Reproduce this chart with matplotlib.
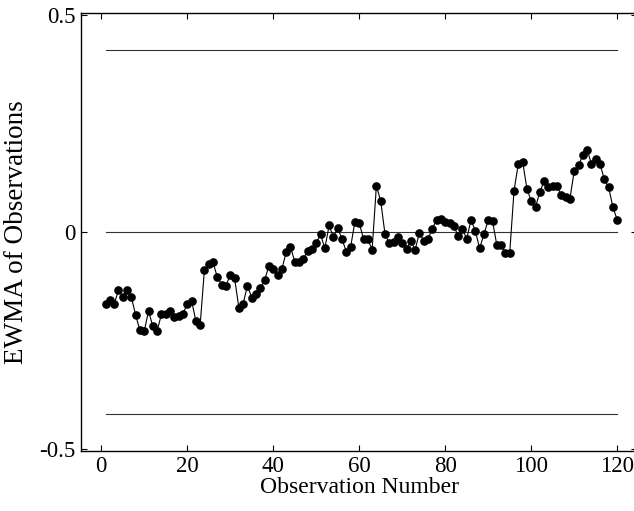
import numpy as np
import matplotlib
matplotlib.use("Agg")
import matplotlib.pyplot as plt

plt.rcParams['font.family'] = ['Liberation Serif', 'DejaVu Serif']
plt.rcParams['axes.unicode_minus'] = False

obs = list(range(1, 121))
ewma = [
    -0.167, -0.157, -0.167, -0.134, -0.150, -0.134, -0.150, -0.191, -0.227, -0.229,
    -0.182, -0.217, -0.228, -0.190, -0.189, -0.182, -0.197, -0.193, -0.189, -0.166,
    -0.158, -0.204, -0.215, -0.088, -0.074, -0.070, -0.104, -0.121, -0.124, -0.099,
    -0.105, -0.174, -0.165, -0.124, -0.151, -0.144, -0.130, -0.111, -0.078, -0.085,
    -0.099, -0.086, -0.047, -0.034, -0.068, -0.068, -0.062, -0.044, -0.039, -0.026,
    -0.005, -0.038, 0.015, -0.012, 0.010, -0.017, -0.045, -0.035, 0.024, 0.021,
    -0.016, -0.017, -0.041, 0.107, 0.071, -0.005, -0.026, -0.022, -0.012, -0.026,
    -0.039, -0.021, -0.041, -0.002, -0.020, -0.016, 0.008, 0.028, 0.030, 0.022,
    0.020, 0.014, -0.009, 0.006, -0.015, 0.027, 0.003, -0.038, -0.005, 0.027,
    0.025, -0.030, -0.030, -0.048, -0.048, 0.095, 0.157, 0.162, 0.100, 0.071,
    0.058, 0.092, 0.118, 0.103, 0.106, 0.106, 0.085, 0.081, 0.076, 0.141,
    0.154, 0.177, 0.190, 0.157, 0.169, 0.157, 0.121, 0.103, 0.057, 0.028,
]
limits = [0.42, 0.0, -0.42]
limit_span = [1, 120]
xticks = [0, 20, 40, 60, 80, 100, 120]
yticks = [-0.5, 0, 0.5]
yticklabels = ['-0.5', '0', '0.5']

fig = plt.figure(figsize=(6.34, 5.11), dpi=100)
ax = fig.add_axes([81/634, 0.118, 556/634, 0.856])

for lv in limits:
    ax.plot(limit_span, [lv, lv], color='#333333', lw=0.8)

ax.plot(obs, ewma, color='black', lw=0.8, marker='o', markersize=5.2,
        markerfacecolor='black', markeredgecolor='black')

ax.set_xlim(-4.7, 124.6)
ax.set_ylim(-0.504, 0.504)
ax.set_xticks(xticks)
ax.set_yticks(yticks)
ax.set_yticklabels(yticklabels)
ax.tick_params(direction='in', top=True, right=True, length=4, width=0.8,
               labelsize=16.5, pad=4)
for s in ax.spines.values():
    s.set_linewidth(1.0)

ax.set_xlabel('Observation Number', fontsize=17, labelpad=0)
ax.set_ylabel('EWMA of Observations', fontsize=19.5, labelpad=7)

fig.savefig('out.png', dpi=100)
